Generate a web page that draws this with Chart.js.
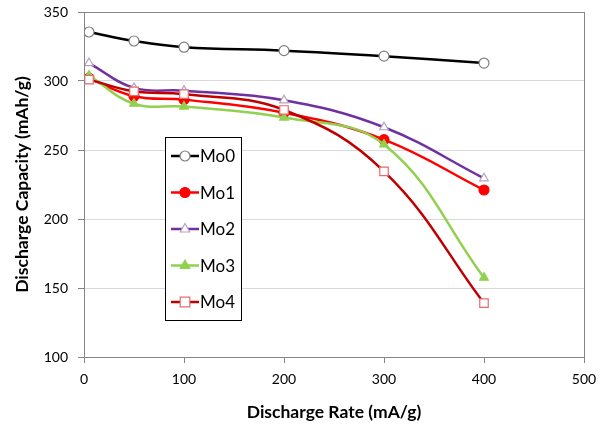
<!DOCTYPE html>
<html>
<head>
<meta charset="utf-8">
<script src="https://cdn.jsdelivr.net/npm/chart.js@4.4.1/dist/chart.umd.min.js"></script>
<style>
  html, body { margin: 0; padding: 0; background: #ffffff; }
  #wrap { width: 606px; height: 429px; }
</style>
</head>
<body>
<div id="wrap"><canvas id="c" width="606" height="429"></canvas></div>
<script>
// ---- data ----
const rates = [5, 50, 100, 200, 300, 400];
const mo0 = [335.5, 329, 324.5, 322, 318, 313];
const mo1 = [302, 289, 286.5, 277, 257.5, 221];
const mo2 = [313, 295, 293, 286, 266.5, 229.5];
const mo3 = [304, 283.5, 281.5, 273.5, 254, 157.5];
const mo4 = [301, 292.5, 290.5, 279, 234.5, 139];
const seriesNames = ["Mo0", "Mo1", "Mo2", "Mo3", "Mo4"];
const xTicks = [0, 100, 200, 300, 400, 500];
const yTicks = [100, 150, 200, 250, 300, 350];

const styles = [
  { line: "#000000", fill: "#ffffff", border: "#7f7f7f", shape: "circle" },
  { line: "#ff0000", fill: "#ff0000", border: "#ff0000", shape: "circle" },
  { line: "#7030a0", fill: "#ffffff", border: "#b3a2c7", shape: "triangle" },
  { line: "#92d050", fill: "#92d050", border: "#92d050", shape: "triangle" },
  { line: "#c00000", fill: "#ffffff", border: "#e46c6c", shape: "rect" }
];
const allValues = [mo0, mo1, mo2, mo3, mo4];

const datasets = allValues.map((vals, i) => ({
  label: seriesNames[i],
  data: rates.map((r, k) => ({ x: r, y: vals[k] })),
  showLine: true,
  borderColor: styles[i].line,
  borderWidth: 2.5,
  tension: 0.4,
  pointStyle: styles[i].shape,
  pointRadius: styles[i].shape === "rect" ? 6 : 5,
  pointBackgroundColor: styles[i].fill,
  pointBorderColor: styles[i].border,
  pointBorderWidth: 1.2,
  order: 4 - i
}));

const FONT = "Lato, 'Liberation Sans', sans-serif";

function drawShape(ctx, shape, r, x, y) {
  if (shape === "circle") {
    ctx.arc(x, y, r, 0, Math.PI * 2);
  } else if (shape === "triangle") {
    ctx.moveTo(x, y - r * 1.1);
    ctx.lineTo(x + r * 0.95, y + r * 0.6);
    ctx.lineTo(x - r * 0.95, y + r * 0.6);
    ctx.closePath();
  } else {
    const s = r * 0.8;
    ctx.rect(x - s, y - s, 2 * s, 2 * s);
  }
}

const framePlugin = {
  id: "frame",
  afterDraw(chart) {
    const { ctx, chartArea: a } = chart;
    ctx.save();
    ctx.strokeStyle = "#868686";
    ctx.lineWidth = 1;
    ctx.strokeRect(Math.round(a.left) + 0.5, Math.round(a.top) + 0.5,
                   Math.round(a.right - a.left), Math.round(a.bottom - a.top));
    // legend box
    const bx = 165, by = 137, bw = 76, bh = 183;
    ctx.fillStyle = "#ffffff";
    ctx.fillRect(bx, by, bw, bh);
    ctx.strokeStyle = "#000000";
    ctx.lineWidth = 1;
    ctx.strokeRect(bx + 0.5, by + 0.5, bw, bh);
    chart.data.datasets.forEach((ds, i) => {
      const cy = by + 19 + i * 36.5;
      const lx0 = bx + 6, lx1 = bx + 34;
      ctx.strokeStyle = ds.borderColor;
      ctx.lineWidth = 2.5;
      ctx.beginPath();
      ctx.moveTo(lx0, cy);
      ctx.lineTo(lx1, cy);
      ctx.stroke();
      ctx.fillStyle = ds.pointBackgroundColor;
      ctx.strokeStyle = ds.pointBorderColor;
      ctx.lineWidth = ds.pointBorderWidth;
      ctx.beginPath();
      drawShape(ctx, ds.pointStyle, ds.pointRadius, (lx0 + lx1) / 2, cy);
      ctx.fill();
      ctx.stroke();
      ctx.fillStyle = "#000000";
      ctx.font = "17px " + FONT;
      ctx.textBaseline = "middle";
      ctx.textAlign = "left";
      ctx.fillText(ds.label, lx1 + 1, cy + 1);
    });
    ctx.restore();
  }
};

new Chart(document.getElementById("c"), {
  type: "scatter",
  data: { datasets },
  options: {
    responsive: false,
    animation: false,
    devicePixelRatio: 1,
    layout: { padding: { left: 0, top: 12, right: 22, bottom: 0 } },
    plugins: { legend: { display: false }, tooltip: { enabled: false } },
    scales: {
      x: {
        type: "linear",
        min: 0, max: 500,
        afterBuildTicks(scale) { scale.ticks = xTicks.map(v => ({ value: v })); },
        afterFit(scale) { scale.height = 72; },
        grid: { drawOnChartArea: false, tickLength: 6, tickColor: "#868686" },
        border: { display: true, color: "#868686" },
        ticks: { font: { family: FONT, size: 14 }, color: "#000000", padding: 8 },
        title: { display: true, text: "Discharge Rate (mA/g)", font: { family: FONT, size: 17.5, weight: "bold" }, color: "#000000", padding: { top: 4, bottom: 6 } }
      },
      y: {
        type: "linear",
        min: 100, max: 350,
        afterBuildTicks(scale) { scale.ticks = yTicks.map(v => ({ value: v })); },
        afterFit(scale) { scale.width = 84; scale.paddingTop = 0; scale.paddingBottom = 0; },
        grid: { color: "#d9d9d9", tickLength: 6, tickColor: "#868686" },
        border: { display: true, color: "#868686" },
        ticks: { font: { family: FONT, size: 14 }, color: "#000000", padding: 10 },
        title: { display: true, text: "Discharge Capacity (mAh/g)", font: { family: FONT, size: 17.5, weight: "bold" }, color: "#000000", padding: { top: 12, bottom: 4 } }
      }
    }
  },
  plugins: [framePlugin]
});
</script>
</body>
</html>
